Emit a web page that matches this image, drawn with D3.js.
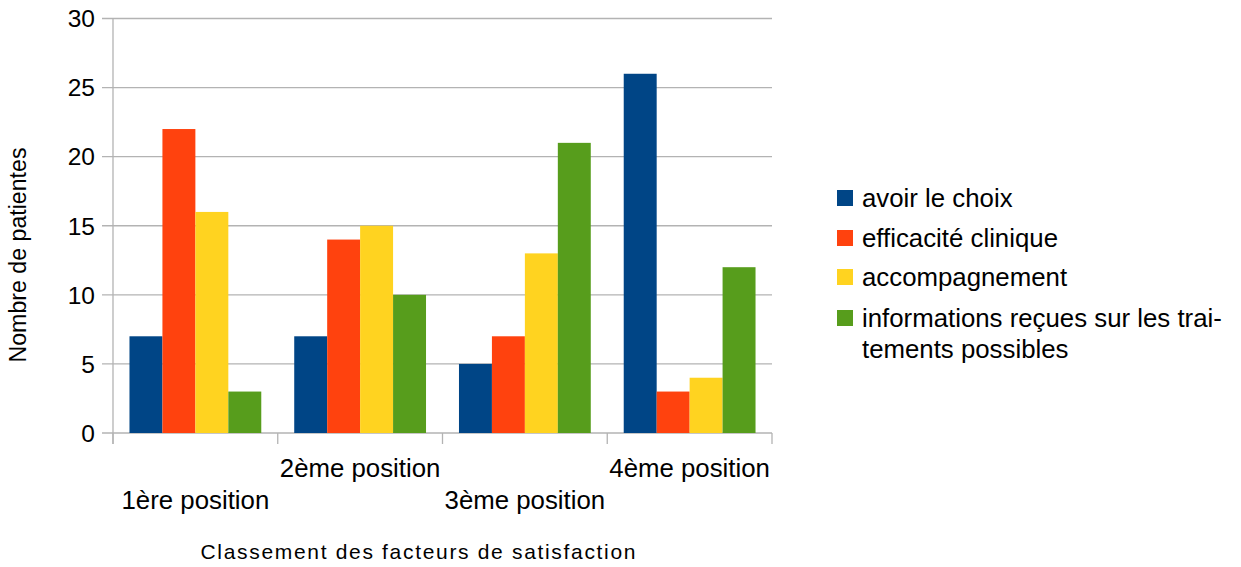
<!DOCTYPE html>
<html><head><meta charset="utf-8">
<script src="https://cdn.jsdelivr.net/npm/d3@7"></script>
<style>body{margin:0;background:#fff}svg{display:block}text{font-family:"Liberation Sans",Arial,sans-serif;fill:#000}</style>
</head><body><svg id="c" width="1241" height="567"></svg>
<script>
const categories = ["1ère position","2ème position","3ème position","4ème position"];
const seriesNames = ["avoir le choix","efficacité clinique","accompagnement","informations reçues sur les traitements possibles"];
const avoirLeChoix = [7,7,5,26];
const efficaciteClinique = [22,14,7,3];
const accompagnement = [16,15,13,4];
const informations = [3,10,21,12];
const yTicks = [0,5,10,15,20,25,30];
const colors = ["#004586","#ff420e","#ffd320","#579d1c"];
const seriesValues = [avoirLeChoix, efficaciteClinique, accompagnement, informations];

const svg = d3.select("#c");
const L = 113, R = 772, T = 18.5, B = 433;
const x0 = d3.scaleBand().domain(categories).range([L, R]).padding(0);
const x1 = d3.scaleBand().domain(d3.range(4)).range([0, x0.bandwidth()]).paddingInner(0).paddingOuter(0.5);
const y = d3.scaleLinear().domain([0,30]).range([B, T]);

// grid
svg.append("g").selectAll("line").data(yTicks).join("line")
  .attr("x1", L-11).attr("x2", R).attr("y1", d=>y(d)).attr("y2", d=>y(d))
  .attr("stroke","#b3b3b3").attr("stroke-width",1.3);
// y labels
svg.append("g").selectAll("text").data(yTicks).join("text")
  .attr("x", 95).attr("y", d=>y(d)).attr("dy","0.36em").attr("text-anchor","end")
  .attr("font-size",24.5).text(d=>d);

// bars
const g = svg.append("g");
categories.forEach((c,ci)=>{
  seriesValues.forEach((vals,si)=>{
    g.append("rect").attr("x", x0(c)+x1(si)).attr("width", x1.bandwidth())
     .attr("y", y(vals[ci])).attr("height", y(0)-y(vals[ci])).attr("fill", colors[si]);
  });
});

// axes lines
svg.append("line").attr("x1",L).attr("x2",L).attr("y1",T).attr("y2",B+11).attr("stroke","#b3b3b3").attr("stroke-width",1.3);
const bounds = categories.map(c=>x0(c)).concat([R]);
svg.append("g").selectAll("line").data(bounds).join("line")
  .attr("x1",d=>d).attr("x2",d=>d).attr("y1",B).attr("y2",B+11).attr("stroke","#b3b3b3").attr("stroke-width",1.3);

// category labels staggered
svg.append("g").selectAll("text").data(categories).join("text")
  .attr("x", d=>x0(d)+x0.bandwidth()/2).attr("y",(d,i)=> i%2===0 ? 509 : 477)
  .attr("text-anchor","middle").attr("font-size",25.8).text(d=>d);

// axis titles
svg.append("text").attr("x",418).attr("y",559).attr("text-anchor","middle").attr("font-size",21)
  .attr("textLength",435).attr("lengthAdjust","spacing").text("Classement des facteurs de satisfaction");
svg.append("text").attr("transform","translate(26,255) rotate(-90)").attr("text-anchor","middle").attr("font-size",23)
  .attr("textLength",215).attr("lengthAdjust","spacingAndGlyphs").text("Nombre de patientes");

// legend
const legendLines = [["avoir le choix"],["efficacité clinique"],["accompagnement"],["informations reçues sur les trai-","tements possibles"]];
const legY = [198,238,277,318];
const lg = svg.append("g");
seriesNames.forEach((s,i)=>{
  lg.append("rect").attr("x",837).attr("y",legY[i]-8).attr("width",16).attr("height",16).attr("fill",colors[i]);
  legendLines[i].forEach((t,j)=>{
    lg.append("text").attr("x",862).attr("y",legY[i]+j*31).attr("dy","0.36em").attr("font-size",25.8).text(t);
  });
});
</script></body></html>
